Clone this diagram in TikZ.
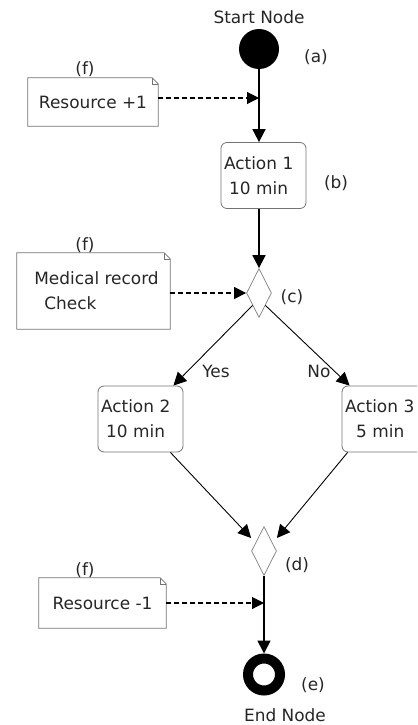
\documentclass[tikz,border=0pt]{standalone}
\usepackage{fontspec}
\setmainfont{DejaVu Sans}
\usetikzlibrary{arrows.meta,shapes.geometric,calc}

% outline of a note with a folded top-right corner, drawn around a named node
\newcommand\notefold[1]{%
  \draw[notecol, line width=0.8bp]
    (#1.south west) -- (#1.north west) -- ([xshift=-6bp]#1.north east)
    -- ([yshift=-6bp]#1.north east) -- (#1.south east) -- cycle;
  \draw[notecol, line width=0.5bp]
    ([xshift=-6bp]#1.north east) -- ([xshift=-6bp,yshift=-6bp]#1.north east)
    -- ([yshift=-6bp]#1.north east);}

\colorlet{notecol}{black!55}
\colorlet{txt}{black!85}

\begin{document}
\begin{tikzpicture}[x=1bp, y=-1bp,
  font=\fontsize{17}{25}\selectfont, text=txt,
  flow/.style={-{Triangle[length=13bp,width=13bp]}, line width=1.8bp},
  branch/.style={-{Triangle[length=13bp,width=13bp]}, line width=0.9bp},
  resarrow/.style={-{Triangle[length=12bp,width=12bp]}, dash pattern=on 5bp off 3bp, line width=1.1bp},
  actionbox/.style={draw=notecol, line width=0.8bp, rounded corners=6bp,
    minimum height=66bp, text width=79bp, inner xsep=3bp, align=left},
  decision/.style={diamond, draw=black!45, line width=0.8bp,
    minimum width=25bp, minimum height=49bp, inner sep=0pt},
  notebox/.style={inner sep=0pt},
  tag/.style={inner sep=0pt}
]
\useasboundingbox (0,0) rectangle (417,725);
\clip (0,0) rectangle (417,725);

% start and end
\node[circle, fill=black, minimum size=40bp, inner sep=0pt] (start) at (259,49) {};
\node[tag] (startlbl) at (259,17) {Start Node};
\node[tag] (la) at (316,57) {(a)};

\node[circle, draw=black, line width=10bp, minimum size=32bp, inner sep=0pt] (end) at (264,674.5) {};
\node[tag] (endlbl) at (285,715) {End Node};
\node[tag] (le) at (313,685) {(e)};

% actions
\node[actionbox, minimum width=85bp] (a1) at (263.5,175.5) {Action 1\\\hspace*{5bp}10 min};
\node[tag] (lb) at (336,183) {(b)};
\node[actionbox] (a2) at (140.5,419) {Action 2\\\hspace*{5bp}10 min};
\node[actionbox] (a3) at (384.5,419) {Action 3\\\hspace*{11bp}5 min};

% decisions
\node[decision] (c) at (259,293) {};
\node[tag] (lc) at (292,297) {(c)};
\node[decision] (d) at (264,551) {};
\node[tag] (ld) at (297,565) {(d)};

% resource notes
\node[notebox, minimum width=130bp, minimum height=48bp] (n1) at (93,102) {Resource +1};
\notefold{n1}
\node[tag] (f1) at (85,69) {(f)};
\node[notebox, minimum width=153bp, minimum height=76bp, align=left] (n2) at (93.5,291)
  {\hspace*{6bp}Medical record\\\hspace*{16bp}Check};
\notefold{n2}
\node[tag] (f2) at (85,245) {(f)};
\node[notebox, minimum width=127bp, minimum height=50bp] (n3) at (102.5,603) {Resource -1};
\notefold{n3}
\node[tag] (f3) at (85,570) {(f)};

% points where the resource notes attach
\coordinate (r1) at (259,98);
\coordinate (r3) at (264,603);

% flow
\draw[flow] (start.south) -- (start.south |- a1.north);
\draw[resarrow] (n1.east |- r1) -- (r1);
\draw[flow] (c.north |- a1.south) -- (c.north);
\draw[resarrow] (n2.east |- c.west) -- (c.west);
\draw[branch] (c.south west) -- ($(a2.north east)+(-10,0)$);
\draw[branch] (c.south east) -- ($(a3.north west)+(8,0)$);
\node[tag] (yes) at (216,371) {Yes};
\node[tag] (no) at (319,371) {No};
\draw[branch] ($(a2.south east)+(-13,0)$) -- ($(d.west)+(0,-13)$);
\draw[branch] ($(a3.south west)+(6,0)$) -- ($(d.east)+(0,-13)$);
\draw[flow] (d.south) -- (end.north);
\draw[resarrow] (n3.east |- r3) -- (r3);
\end{tikzpicture}
\end{document}
